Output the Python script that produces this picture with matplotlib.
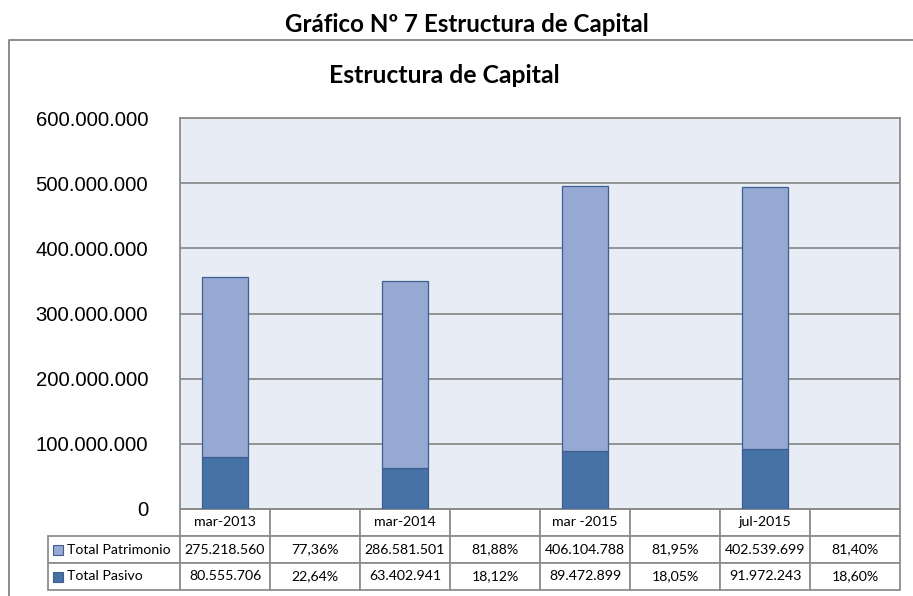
import matplotlib
matplotlib.use("Agg")
import matplotlib.pyplot as plt
from matplotlib.patches import Rectangle
from matplotlib.lines import Line2D
from matplotlib.ticker import FuncFormatter

# ---------------- data ----------------
categories = ["mar-2013", "", "mar-2014", "", "mar -2015", "", "jul-2015", ""]
bar_categories = ["mar-2013", "mar-2014", "mar -2015", "jul-2015"]
total_patrimonio = [275218560, 286581501, 406104788, 402539699]
total_pasivo = [80555706, 63402941, 89472899, 91972243]
pct_patrimonio = ["77,36%", "81,88%", "81,95%", "81,40%"]
pct_pasivo = ["22,64%", "18,12%", "18,05%", "18,60%"]
series_names = ["Total Patrimonio", "Total Pasivo"]
y_ticks = [0, 100000000, 200000000, 300000000, 400000000, 500000000, 600000000]
outer_title = "Gráfico Nº 7 Estructura de Capital"
inner_title = "Estructura de Capital"

# ---------------- style ----------------
C_PAT = "#95A9D2"
C_PAS = "#4672A8"
C_EDGE = "#3E5F8E"
C_BG = "#E8ECF4"
C_GRID = "#8C8C8C"
C_TBL = "#8E8E8E"

W, H = 913, 596
fig = plt.figure(figsize=(W / 100, H / 100), dpi=100)


def fx(px):
    return px / W


def fy(py):
    return 1 - py / H


def dots(v):
    return f"{int(v):,}".replace(",", ".")


# plot area in pixel coordinates
PL, PR, PT, PB = 180, 900, 118, 509
ax = fig.add_axes([fx(PL), fy(PB), fx(PR) - fx(PL), fy(PT) - fy(PB)])
ax.set_facecolor(C_BG)

xpos = [categories.index(c) for c in bar_categories]
ax.bar(xpos, total_pasivo, width=0.52, color=C_PAS, edgecolor=C_EDGE,
       linewidth=0.9, zorder=3, label=series_names[1])
ax.bar(xpos, total_patrimonio, width=0.52, bottom=total_pasivo, color=C_PAT,
       edgecolor=C_EDGE, linewidth=0.9, zorder=3, label=series_names[0])

ax.set_xlim(-0.5, len(categories) - 0.5)
ax.set_ylim(y_ticks[0], y_ticks[-1])
ax.set_yticks(y_ticks)
ax.yaxis.set_major_formatter(FuncFormatter(lambda v, p: dots(v)))
ax.set_xticks([])
ax.yaxis.grid(True, color=C_GRID, linewidth=1.3)
ax.set_axisbelow(True)
ax.tick_params(axis="y", length=0, pad=23)
for lab in ax.get_yticklabels():
    lab.set_fontfamily("Liberation Sans")
    lab.set_fontsize(14.6)
for s in ax.spines.values():
    s.set_color(C_GRID)
    s.set_linewidth(1.3)

# ---------------- data table ----------------
row_pat = []
row_pas = []
for i in range(len(bar_categories)):
    row_pat += [dots(total_patrimonio[i]), pct_patrimonio[i]]
    row_pas += [dots(total_pasivo[i]), pct_pasivo[i]]
cell_text = [row_pat, row_pas]

aw = PR - PL
ah = PB - PT
label_w = 180 - 48
tbl_h = 590 - 509
tbl = ax.table(cellText=cell_text, rowLabels=series_names, colLabels=categories,
               cellLoc="center", rowLoc="left",
               colWidths=[1.0 / len(categories)] * len(categories),
               bbox=[0, -tbl_h / ah, 1, tbl_h / ah])
tbl.auto_set_font_size(False)
tbl.set_fontsize(10.3)
try:
    tbl._autoColumns = [c for c in tbl._autoColumns if c != -1]
except Exception:
    pass
for (r, c), cell in tbl.get_celld().items():
    cell.set_edgecolor(C_TBL)
    cell.set_linewidth(1.3)
    cell.get_text().set_fontfamily("Lato")
    cell.get_text().set_fontsize(10.3)
    if c == -1:
        cell.set_width(label_w / aw)
        cell.PAD = 19 / label_w
    else:
        cell.set_width(1.0 / len(categories))

# legend keys in the row-label cells
key = 10
for row_i, colr in enumerate([C_PAT, C_PAS]):
    cy = 536 + 27 * row_i + 13.5
    ax.add_patch(Rectangle(((53 - PL) / aw, (PB - cy - key / 2) / ah), key / aw, key / ah,
                           transform=ax.transAxes, facecolor=colr, edgecolor=C_EDGE,
                           linewidth=0.8, clip_on=False, zorder=5))

# ---------------- frame and titles ----------------
fig.add_artist(Line2D([fx(9), fx(9), 1.0], [0.0, fy(40), fy(40)],
                      transform=fig.transFigure, color=C_GRID, linewidth=1.4))

t1 = fig.text(fx(467), fy(31.5), outer_title, ha="center", va="baseline",
              fontfamily="Lato", fontweight="bold", fontsize=16)
t2 = fig.text(fx(444), fy(83), inner_title, ha="center", va="baseline",
              fontfamily="Lato", fontweight="bold", fontsize=18)

fig.canvas.draw()
rend = fig.canvas.get_renderer()
for t, target in [(t1, 365), (t2, 232)]:
    w = t.get_window_extent(renderer=rend).width
    t.set_fontsize(t.get_fontsize() * target / w)

# fit table text so a 9-digit number is ~80 px wide, as in the reference
ref_txt = tbl.get_celld()[(1, 0)].get_text()
wtxt = ref_txt.get_window_extent(renderer=rend).width
if wtxt > 0:
    new_size = 10.3 * 80.0 / wtxt
    for cell in tbl.get_celld().values():
        cell.get_text().set_fontsize(new_size)

fig.savefig("out.png", dpi=100)
